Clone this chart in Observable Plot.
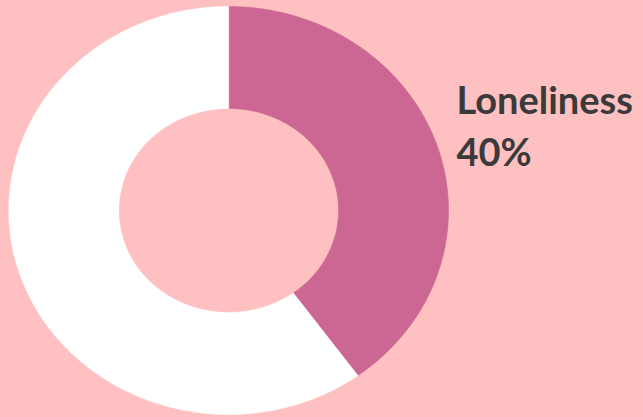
<!DOCTYPE html>
<html>
<head>
<meta charset="utf-8">
<script src="https://cdn.jsdelivr.net/npm/d3@7"></script>
<script src="https://cdn.jsdelivr.net/npm/@observablehq/plot@0.6"></script>
<style>
  html, body { margin: 0; padding: 0; background: #FEC0C1; }
  #chart svg { display: block; }
</style>
</head>
<body>
<div id="chart"></div>
<script>
const categories = ["Loneliness", "Other"];
const values = [40, 60];
const colors = ["#CC6794", "#FFFFFF"];
const labelLines = ["Loneliness", "40%"];

const innerRatio = 0.5;
const total = d3.sum(values);

// Build ring polygons from the values (angle measured clockwise from top)
let acc = 0;
const slices = categories.map((c, i) => {
  const a0 = acc / total * 2 * Math.PI;
  acc += values[i];
  const a1 = acc / total * 2 * Math.PI;
  const n = 200;
  const pts = [];
  for (let k = 0; k <= n; k++) {
    const a = a0 + (a1 - a0) * k / n;
    pts.push({x: Math.sin(a), y: Math.cos(a)});
  }
  for (let k = n; k >= 0; k--) {
    const a = a0 + (a1 - a0) * k / n;
    pts.push({x: innerRatio * Math.sin(a), y: innerRatio * Math.cos(a)});
  }
  pts.push(pts[0]);
  return {category: c, color: colors[i], pts};
});

const labels = [
  {text: labelLines[0], y: 0.535},
  {text: labelLines[1], y: 0.28}
];

const chart = Plot.plot({
  width: 643,
  height: 417,
  margin: 0,
  style: {background: "#FEC0C1", overflow: "visible"},
  x: {domain: [-1, 1], range: [8.3, 448], axis: null},
  y: {domain: [-1, 1], range: [414, 6], axis: null},
  marks: [
    ...slices.map(s => Plot.line(s.pts, {
      x: "x", y: "y", fill: s.color, stroke: s.color, strokeWidth: 0.6, curve: "linear"
    })),
    Plot.text(labels, {
      x: 1.036, y: "y", text: "text",
      textAnchor: "start", lineAnchor: "middle",
      fontFamily: "Lato", fontWeight: "bold", fontSize: 38, fill: "#3A3A3A"
    })
  ]
});
document.getElementById("chart").appendChild(chart);
</script>
</body>
</html>
